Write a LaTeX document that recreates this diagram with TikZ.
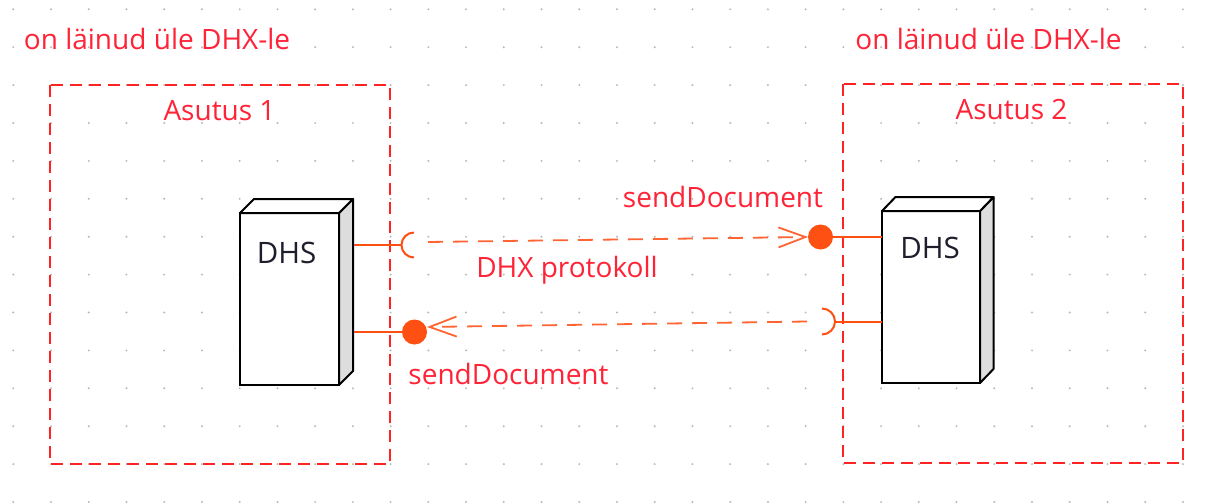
\documentclass[tikz,border=0pt]{standalone}
\usepackage{fontspec}
\setmainfont{Open Sans}
\usetikzlibrary{arrows.meta}
\definecolor{lblred}{RGB}{255,35,55}
\definecolor{boxred}{RGB}{255,35,35}
\definecolor{conn}{RGB}{255,80,20}
\definecolor{depc}{RGB}{255,100,50}
\definecolor{dotgray}{RGB}{185,185,185}
\definecolor{sidegray}{RGB}{221,221,221}
\definecolor{dhsink}{RGB}{30,30,45}
\begin{document}
\begin{tikzpicture}[x=1pt,y=-1pt,
  lbl/.style={text=lblred, font=\fontsize{28}{32}\selectfont, inner sep=0pt, anchor=base},
  dhstext/.style={text=dhsink, font=\fontsize{29.5}{34}\selectfont, inner sep=0pt, anchor=base},
  orgbox/.style={draw=boxred, line width=2pt, dash pattern=on 12pt off 7pt},
  dhsbox/.style={draw=black, fill=white, line width=2pt, inner sep=0pt, outer sep=0pt, minimum width=99pt, minimum height=172pt},
  dhsface/.style={draw=black, line width=2pt, line join=round},
  conn/.style={draw=conn, line width=2pt},
  ball/.style={circle, fill=conn, draw=none, inner sep=0pt, outer sep=0pt, minimum size=25pt},
  dep/.style={draw=depc, line width=1.8pt, dash pattern=on 15pt off 10pt,
    -{Straight Barb[length=27pt,width=20pt]}},
]
\fill[white] (0,0) rectangle (1215,503);
\useasboundingbox (0,0) rectangle (1215,503);
% grid dots
\foreach \i in {0,...,31}
  \foreach \j in {0,...,13}
    \fill[dotgray] (13.3+37.73*\i, 9.3+37.9*\j) circle (1.1pt);
% organisation boxes
\draw[orgbox] (50,85) rectangle (390,464);
\draw[orgbox] (843,84) rectangle (1183,463);
% labels
\node[lbl] (t1) at (157,50) {on läinud üle DHX-le};
\node[lbl] (t2) at (988.5,50) {on läinud üle DHX-le};
\node[lbl] (t3) at (219.5,120) {Asutus 1};
\node[lbl] (t4) at (1011.5,119) {Asutus 2};
\node[lbl] (t5) at (723,207) {sendDocument};
\node[lbl] (t6) at (508.5,384) {sendDocument};
\node[lbl] (t7) at (567,277) {DHX protokoll};
% DHS boxes
\node[dhsbox] (dhs1) at (289.5,299) {};
\draw[dhsface, fill=sidegray] (dhs1.north east) -- ++(14,-14) -- ++(0,172) -- (dhs1.south east) -- cycle;
\draw[dhsface, fill=white] (dhs1.north west) -- ++(14,-14) -- ++(99,0) -- (dhs1.north east) -- cycle;
\node[dhstext] (d1) at (286.5,263) {DHS};
\node[dhsbox, minimum width=98pt] (dhs2) at (931,297) {};
\draw[dhsface, fill=sidegray] (dhs2.north east) -- ++(13.5,-14) -- ++(0,172) -- (dhs2.south east) -- cycle;
\draw[dhsface, fill=white] (dhs2.north west) -- ++(13.5,-14) -- ++(98,0) -- (dhs2.north east) -- cycle;
\node[dhstext] (d2) at (930,258) {DHS};
% side coordinates
\coordinate (side1) at (353.5,0);
\coordinate (front2) at (dhs2.west);
% interface symbols
\coordinate (s1) at (414,245);
\coordinate (s2) at (822,321.5);
\node[ball] (b1) at (414.5,332) {};
\node[ball] (b2) at (820.5,237) {};
\draw[conn] ([yshift=12.5pt]s1) arc[start angle=270, end angle=90, radius=12.5];
\draw[conn] ([yshift=13pt]s2) arc[start angle=270, end angle=450, radius=13];
\draw[conn] (s1 -| side1) -- ([xshift=-12.5pt]s1);
\draw[conn] (b1 -| side1) -- (b1);
\draw[conn] (b2) -- (b2 -| front2);
\draw[conn] ([xshift=13pt]s2) -- (s2 -| front2);
% dependencies
\coordinate (a1) at (428,242);
\coordinate (a2) at (807,321.5);
\draw[dep] (a1) -- (b2.west);
\draw[dep] (a2) -- ([yshift=5pt]b1.east);
\end{tikzpicture}
\end{document}
